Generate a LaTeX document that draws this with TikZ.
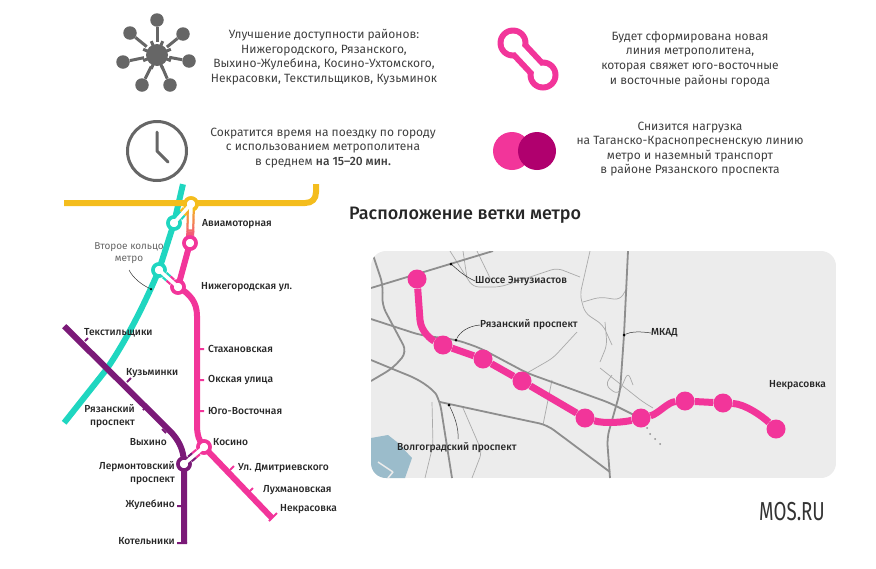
\documentclass[tikz,border=0pt]{standalone}
\usepackage{fontspec}
\setmainfont{Fira Sans}
\newfontfamily\medfont{Fira Sans Medium}
\usetikzlibrary{calc,positioning}
\definecolor{pinkline}{HTML}{F2359A}
\definecolor{darkpink}{HTML}{B0006E}
\definecolor{yellowline}{HTML}{F4BD1D}
\definecolor{tealline}{HTML}{1FD6C0}
\definecolor{purpleline}{HTML}{7B1A78}
\definecolor{icongray}{HTML}{666666}
\definecolor{mapbg}{HTML}{ECECEC}
\definecolor{road}{HTML}{8E8E8E}
\definecolor{lake}{HTML}{9BBCCB}
\tikzset{
  info/.style={align=center,text=black!75,font=\fontsize{12}{14.6}\selectfont},
  lbl/.style={text=black!85,inner sep=0pt,font=\medfont\fontsize{10.2}{12.5}\selectfont},
  ring/.style={draw=#1,circle,fill=white,line width=3.5pt,minimum size=12pt,inner sep=0pt},
  stop/.style={fill=pinkline,circle,minimum size=19pt,inner sep=0pt},
  pt/.style={inner sep=0pt,minimum size=0pt},
  mainroad/.style={draw=road,line width=1.8pt,rounded corners=8pt},
  thinroad/.style={draw=road!75,line width=.7pt,rounded corners=6pt},
  leader/.style={draw=black!80,line width=.5pt},
  dotnode/.style={fill=black,circle,minimum size=3pt,inner sep=0pt},
  sat/.style={fill=icongray,circle,minimum size=13.5pt,inner sep=0pt}
}
\begin{document}
\begin{tikzpicture}[x=1pt,y=-1pt]
\useasboundingbox (0,0) rectangle (876,568);
% icons
\node[circle,fill=icongray,minimum size=22pt,inner sep=0pt] (hub) at (157,55) {};
\foreach \a in {0,45,...,315}
  \draw[icongray,line width=3pt] (hub.center) ++(\a+22.5:9) -- ++(\a+22.5:6);
\foreach \n/\x/\y in {a/157/20,b/183/34,c/189/61,d/170/85,e/142/85,f/123/62,g/130/33} {
  \node[sat] (sat\n) at (\x,\y) {};
  \draw[icongray,line width=3pt] (sat\n) -- ($(sat\n)!.62!(hub)$);
}
\node[circle,draw=icongray,line width=3pt,minimum size=59pt,inner sep=0pt] (clock) at (157,151) {};
\draw[icongray,line width=3pt,line cap=round,line join=round] (157,132) -- (clock.center) -- (168,162);
\coordinate (dbA) at (513,43);
\coordinate (dbB) at (543,75);
\draw[pinkline,line width=21pt] (dbA) -- (dbB);
\fill[pinkline] (dbA) circle (15.5) (dbB) circle (15.5);
\draw[white,line width=9pt] (dbA) -- (dbB);
\fill[white] (dbA) circle (9.5) (dbB) circle (9.5);
\node[circle,fill=pinkline,minimum size=38pt,inner sep=0pt] (circA) at (512,151) {};
\node[circle,fill=darkpink,minimum size=38pt,inner sep=0pt] (circB) at (537,151) {};
% texts
\node[info] (t1) at (324,57) {Улучшение доступности районов:\\Нижегородского, Рязанского,\\Выхино-Жулебина, Косино-Ухтомского,\\Некрасовки, Текстильщиков, Кузьминок};
\node[info] (t2) at (323,148) {Сократится время на поездку по городу\\с использованием метрополитена\\в среднем {\medfont на 15–20 мин.}};
\node[info] (t3) at (690,59) {Будет сформирована новая\\линия метрополитена,\\которая свяжет юго-восточные\\и восточные районы города};
\node[info] (t4) at (690,149) {Снизится нагрузка\\на Таганско-Краснопресненскую линию\\метро и наземный транспорт\\в районе Рязанского проспекта};
\node[anchor=west,inner sep=0pt,text=black!85,font=\medfont\fontsize{18}{20}\selectfont] (title) at (349,215) {Расположение ветки метро};
\node[inner sep=0pt,text=black!80,font=\fontsize{26}{28}\selectfont] (mos) at (792,512) {\scalebox{.72}[1]{MOS.RU}};
% scheme
\node[pt] (yA) at (64,203) {};
\node[pt] (yB) at (316,184) {};
\node[ring=yellowline] (avia) at (191,204) {};
\node[ring=tealline] (tealA) at (174,223) {};
\node[ring=tealline] (tealB) at (159,270) {};
\node[ring=pinkline] (pinkA) at (190,243) {};
\node[ring=pinkline] (nizh) at (178,287) {};
\node[ring=pinkline] (kos) at (204,447) {};
\node[ring=purpleline] (lerm) at (184,464) {};
\node[pt] (tealT) at (183,184) {};
\node[pt] (tealE) at (64,423) {};
\node[pt] (purpT) at (64,326) {};
\node[pt] (purpE) at (184,543) {};
\node[pt] (nekr) at (272,518) {};
\draw[tealline,line width=6pt] (tealT) -- (tealA.center) -- (tealB.center) .. controls (140,315) and (120,350) .. (106,370) -- (tealE);
\draw[yellowline,line width=6pt] (yA) -- (305,203) .. controls (312,203) and (316,199) .. (316,192) -- (yB);
\draw[purpleline,line width=6pt] (purpT) -- (169,430) .. controls (178,439) and (184,449) .. (lerm.center) -- (purpE);
\draw[pinkline,line width=6pt] (pinkA.center) -- (nizh.center) .. controls (190,294) and (197,302) .. (197,316) -- (197,425) .. controls (197,435) and (199,441) .. (kos.center) -- (nekr);
% ticks
\draw[purpleline,line width=2pt] (85,341) -- ++(3,-3) (127,382) -- ++(4,-4) (143,410) -- ++(4,-4) (166,433) -- ++(-4,-4) (184,506) -- ++(-7,0) (187,543) -- (177,543);
\draw[pinkline,line width=2pt] (197,349) -- ++(7,0) (197,380) -- ++(7,0) (197,411) -- ++(7,0) (230,470) -- ++(4,-4) (249,492) -- ++(4,-4) (269,521) -- (277,513);
% transfers
\draw[line width=8pt,yellowline] (avia) -- ($(avia)!.5!(tealA)$);
\draw[line width=8pt,tealline] ($(avia)!.5!(tealA)$) -- (tealA);
\foreach \i [evaluate=\i as \p using 100-10*\i] in {0,...,9}
  \draw[line width=8pt,yellowline!\p!pinkline] ($(avia)!\i/10!(pinkA)$) -- ($(avia)!\i/10+.11!(pinkA)$);
\draw[line width=8pt,tealline] (tealB) -- ($(tealB)!.5!(nizh)$);
\draw[line width=8pt,pinkline] ($(tealB)!.5!(nizh)$) -- (nizh);
\draw[line width=8pt,pinkline] (kos) -- ($(kos)!.5!(lerm)$);
\draw[line width=8pt,purpleline] ($(kos)!.5!(lerm)$) -- (lerm);
\foreach \s/\c in {avia/yellowline,tealA/tealline,tealB/tealline,pinkA/pinkline,nizh/pinkline,kos/pinkline,lerm/purpleline}
  \node[ring=\c] at (\s) {};
\draw[line width=3.5pt,white] (avia.center) -- (tealA.center) (avia.center) -- ($(avia)!.65!(pinkA)$) (tealB.center) -- (nizh.center) (kos.center) -- (lerm.center);
% scheme labels
\node[lbl,anchor=west] (lAvia) at (202,224) {Авиамоторная};
\node[lbl,anchor=west] (lNizh) at (201,287) {Нижегородская ул.};
\node[lbl,anchor=west] (lStah) at (208,349) {Стахановская};
\node[lbl,anchor=west] (lOks) at (208,380) {Окская улица};
\node[lbl,anchor=west] (lYugo) at (208,411) {Юго-Восточная};
\node[lbl,anchor=west] (lKos) at (213,442) {Косино};
\node[lbl,anchor=west] (lDm) at (238,468) {Ул. Дмитриевского};
\node[lbl,anchor=west] (lLuh) at (263,490) {Лухмановская};
\node[lbl,anchor=west] (lNek) at (280,509) {Некрасовка};
\node[lbl,anchor=west] (lTeks) at (84,333) {Текстильщики};
\node[lbl,anchor=west] (lKuz) at (126,373) {Кузьминки};
\node[lbl,anchor=east,align=right] (lRyaz) at (135,416) {Рязанский\\проспект};
\node[lbl,anchor=east] (lVyh) at (167,442) {Выхино};
\node[lbl,anchor=east,align=right] (lLer) at (175,473) {Лермонтовский\\проспект};
\node[lbl,anchor=east] (lZhu) at (175,505) {Жулебино};
\node[lbl,anchor=east] (lKot) at (175,541) {Котельники};
\node[inner sep=0pt,align=center,text=black!60,font=\fontsize{10}{11.5}\selectfont] (lRing) at (129,253) {Второе кольцо\\метро};
\node[dotnode,minimum size=2.5pt] (dRing) at (151,289) {};
\draw[leader] (129,270) .. controls (133,278) and (142,285) .. (dRing);
% map
\begin{scope}
\clip[rounded corners=15pt] (371,251) rectangle (836,478);
\fill[mapbg] (371,251) rectangle (836,478);
\fill[lake] (371,438) -- (388,435) -- (397,442) -- (412,458) -- (405,478) -- (371,478) -- cycle;
\draw[mapbg,line width=1.5pt] (378,462) -- (393,472) (393,472) -- (388,478);
\draw[thinroad] (450,251) -- (467,278) -- (473,287) -- (500,287) -- (557,268) -- (580,277) (463,251) -- (467,278) (477,251) -- (492,282)
  (590,251) -- (580,295) -- (585,313) -- (603,325) -- (612,345) (583,302) -- (600,297) -- (620,300) -- (627,288)
  (577,332) -- (553,358) -- (527,373) (552,380) -- (543,425) (432,402) -- (433,445) -- (425,478)
  (463,408) -- (482,452) -- (472,478) (600,368) -- (643,402) -- (653,408) (605,322) -- (607,345) -- (600,362)
  (612,375) -- (605,385) -- (618,395) -- (628,372) -- (633,385);
\draw[mainroad] (371,288) -- (493,251);
\draw[mainroad] (371,319) -- (420,335) -- (457,340) -- (480,348) -- (527,373) -- (610,403) -- (640,418);
\draw[mainroad] (371,360) -- (400,372) .. controls (425,382) and (435,392) .. (440,402) -- (452,478);
\draw[mainroad] (440,402) -- (500,415) -- (547,425) -- (610,472);
\draw[mainroad] (373,255) -- (383,285) -- (382,305) -- (407,352) -- (393,368) -- (371,381);
\draw[mainroad] (628,251) -- (624,335) -- (620,392) -- (607,438) -- (610,478);
\end{scope}
\foreach \n/\x/\y in {sA/417/279,sB/443/345,sC/483/359,sD/522/381,sE/585/418,sF/641/418,sG/685/401,sH/723/403,sI/776/429}
  \node[stop] (\n) at (\x,\y) {};
\draw[pinkline,line width=7pt] (sA) -- (420,320) .. controls (421,332) and (432,340) .. (sB) -- (sC) -- (sD) -- (sE) .. controls (605,424) and (625,422) .. (sF) .. controls (658,414) and (668,402) .. (sG) -- (sH) .. controls (745,404) and (762,416) .. (sI);
\foreach \x/\y in {647/428,650/434,655/439,660/444}
  \fill[road] (\x,\y) circle (1);
% map labels
\node[lbl,anchor=west] (mShos) at (475,281) {Шоссе Энтузиастов};
\node[lbl,anchor=west] (mRyaz) at (480,325) {Рязанский проспект};
\node[lbl,anchor=west] (mVolg) at (397,448) {Волгоградский проспект};
\node[lbl,anchor=west] (mMkad) at (651,333) {МКАД};
\node[lbl,anchor=west] (mNekr) at (769,385) {Некрасовка};
\node[dotnode] (dShos) at (451,264) {};
\node[dotnode] (dRyaz) at (456,340) {};
\node[dotnode] (dVolg) at (449,405) {};
\node[dotnode] (dMkad) at (624,335) {};
\draw[leader] (dShos) .. controls (458,270) and (464,276) .. (mShos.west);
\draw[leader] (dRyaz) .. controls (460,332) and (468,326) .. (mRyaz.west);
\draw[leader] (dVolg) .. controls (454,415) and (459,428) .. (458,439);
\draw[leader] (dMkad) .. controls (630,332) and (638,331) .. (mMkad.west);
\end{tikzpicture}
\end{document}
